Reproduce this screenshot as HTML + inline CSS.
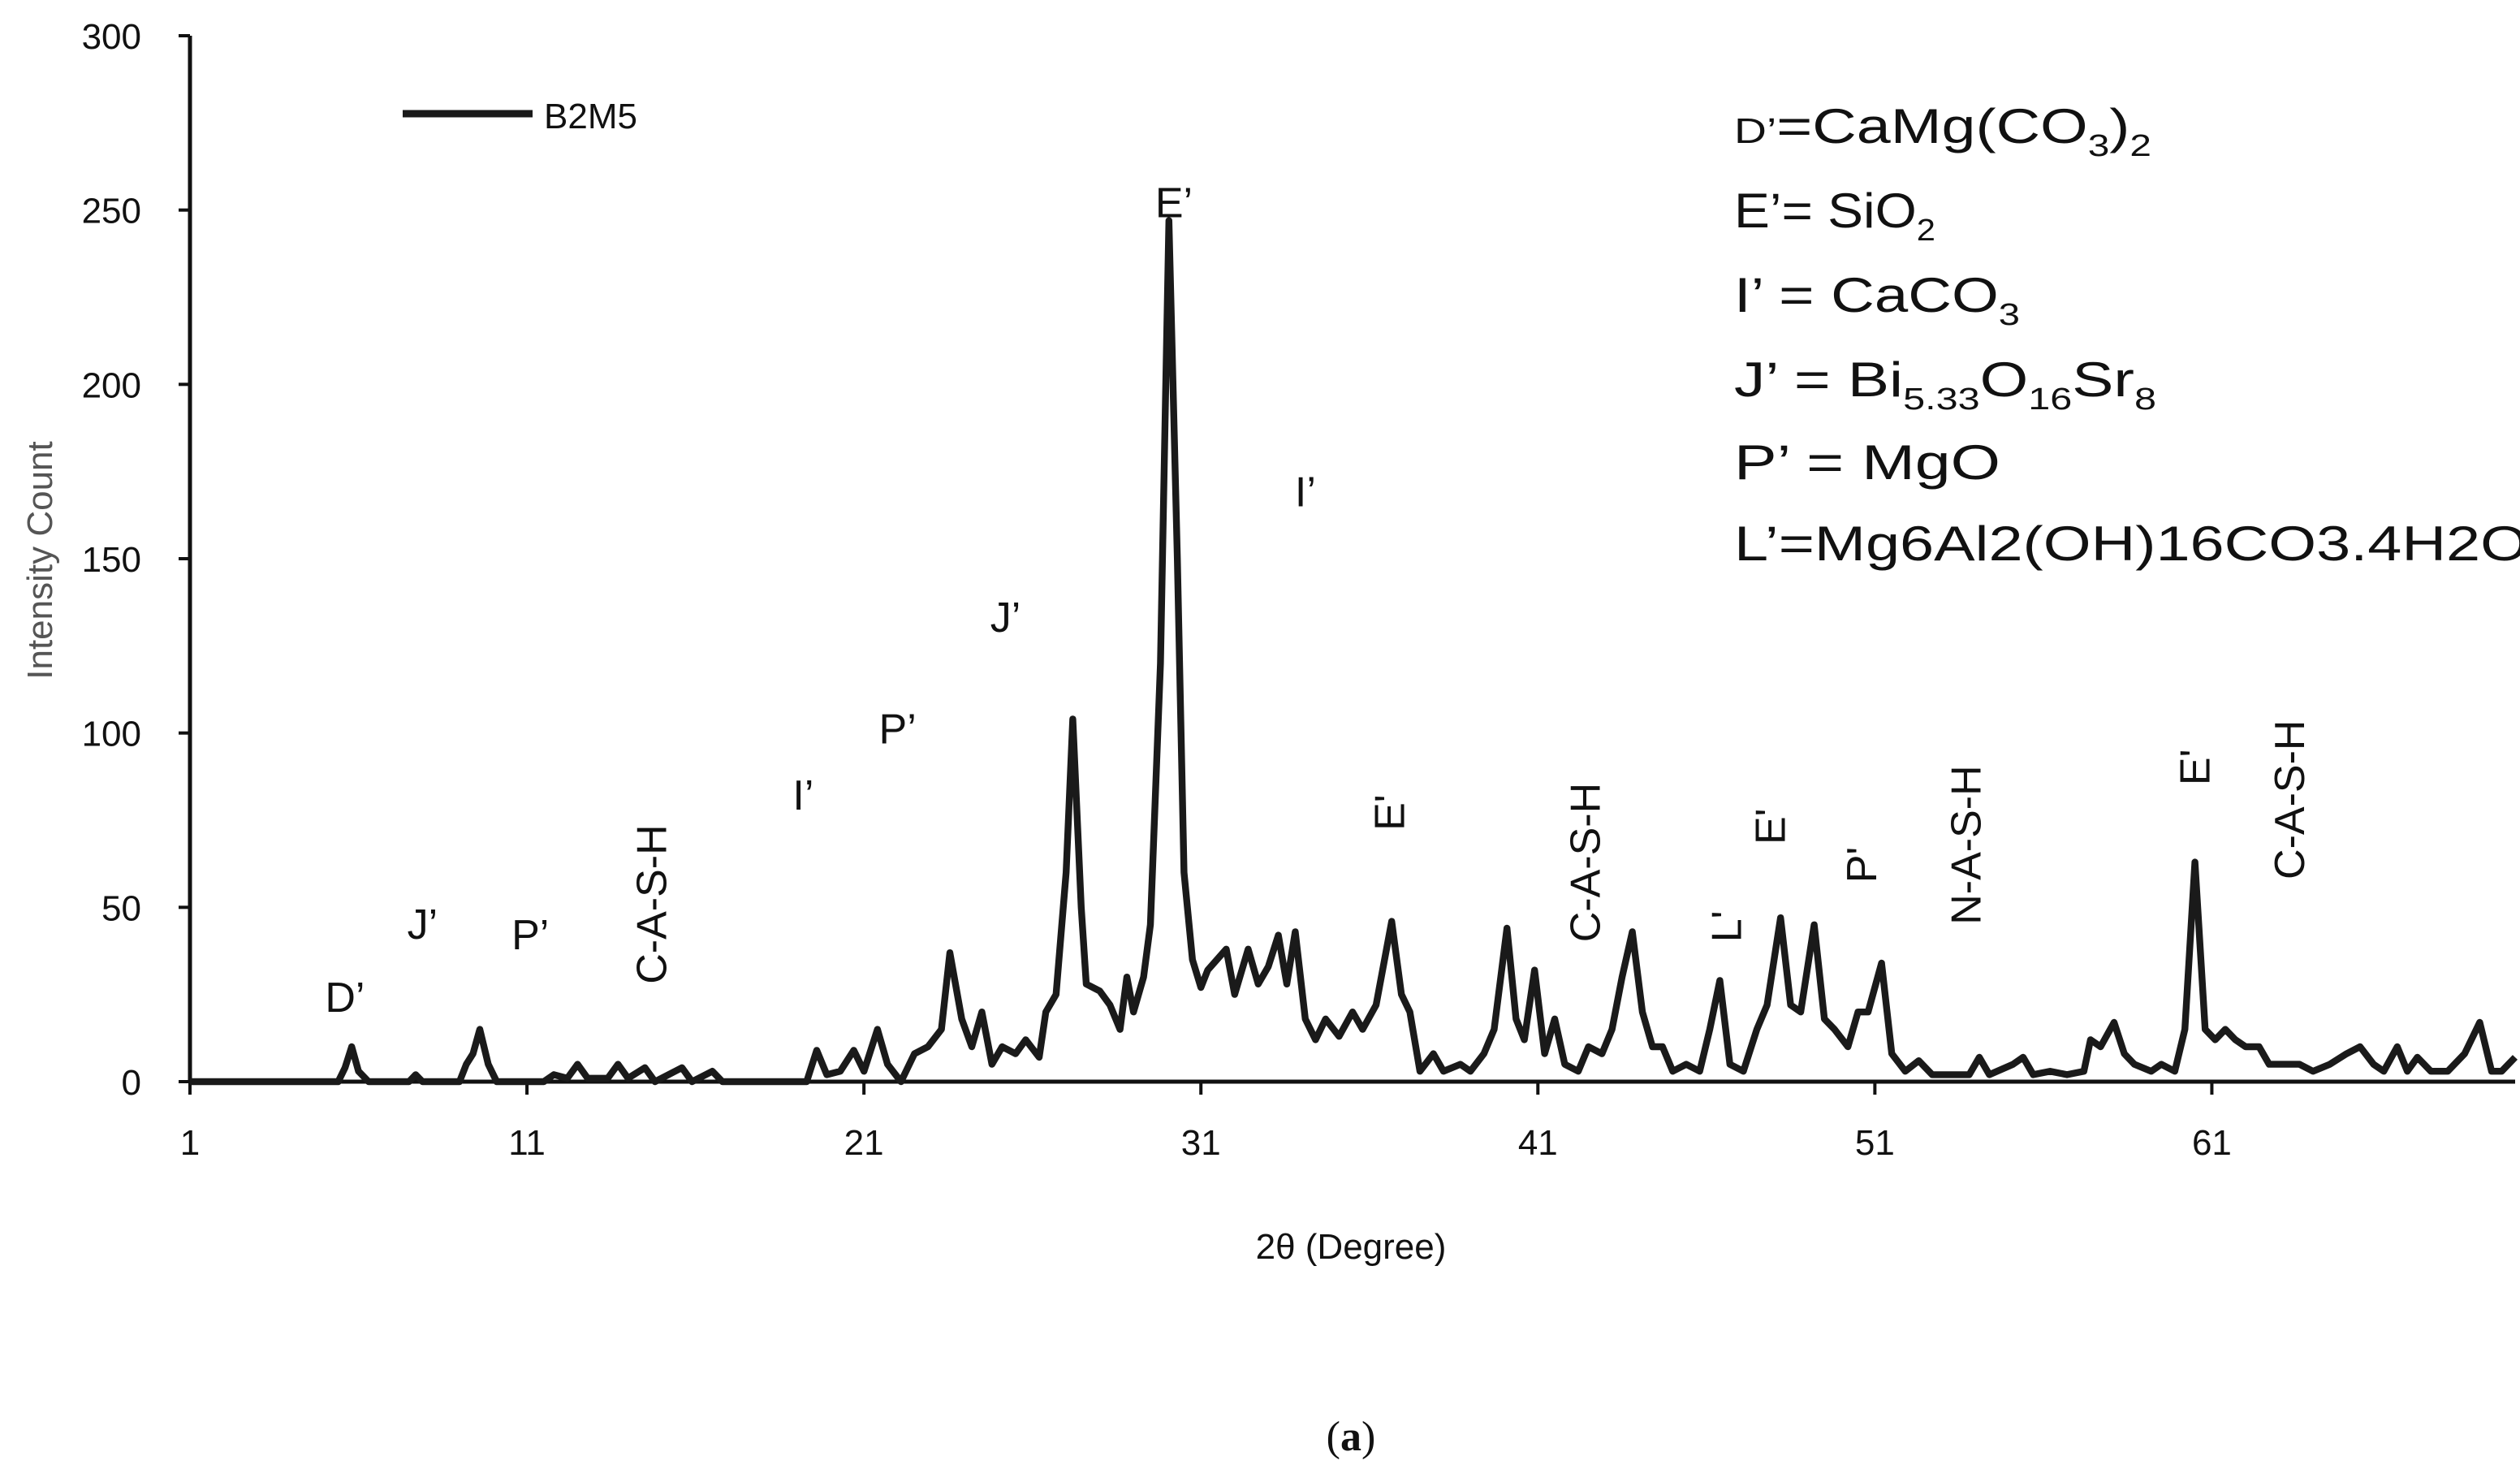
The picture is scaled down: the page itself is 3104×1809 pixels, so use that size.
<!DOCTYPE html>
<html><head><meta charset="utf-8"><style>
html,body{margin:0;padding:0;background:#fff;}
svg{display:block;}
text{font-family:"Liberation Sans",sans-serif;fill:#111;}
</style></head><body>
<svg id="chart" width="3104" height="1809" viewBox="0 0 1552 904.5" preserveAspectRatio="none" xmlns="http://www.w3.org/2000/svg">
<g id="axes"></g>
<path id="series" fill="none" stroke="#1a1a1a" stroke-width="4.2" stroke-linejoin="round"/>
<g id="legend">
<line x1="248" y1="70" x2="328" y2="70" stroke="#1a1a1a" stroke-width="4.5"/>
<text x="335" y="79" font-size="22">B2M5</text>
</g>
<g font-size="30">
<text x="1068" y="88" textLength="257" lengthAdjust="spacingAndGlyphs"><tspan font-size="22">D’</tspan>=CaMg(CO<tspan font-size="19" dy="8">3</tspan><tspan dy="-8">)</tspan><tspan font-size="19" dy="8">2</tspan></text>
<text x="1068" y="140" textLength="124" lengthAdjust="spacingAndGlyphs">E’= SiO<tspan font-size="19" dy="8">2</tspan></text>
<text x="1068" y="192" textLength="176" lengthAdjust="spacingAndGlyphs">I’ = CaCO<tspan font-size="19" dy="8">3</tspan></text>
<text x="1068" y="244" textLength="260" lengthAdjust="spacingAndGlyphs">J’ = Bi<tspan font-size="19" dy="8">5.33</tspan><tspan dy="-8">O</tspan><tspan font-size="19" dy="8">16</tspan><tspan dy="-8">Sr</tspan><tspan font-size="19" dy="8">8</tspan></text>
<text x="1068" y="295" textLength="164" lengthAdjust="spacingAndGlyphs">P’ = MgO</text>
<text x="1068" y="345" textLength="489" lengthAdjust="spacingAndGlyphs">L’=Mg6Al2(OH)16CO3.4H2O</text>
</g>
<g id="labels" font-size="26"></g>
<text x="832" y="775" font-size="22" text-anchor="middle">2θ (Degree)</text>
<text transform="translate(32,345) rotate(-90)" font-size="22" text-anchor="middle" style="fill:#555">Intensity Count</text>
<text x="832" y="893" font-size="26" text-anchor="middle" style="font-family:'Liberation Serif',serif">(<tspan font-weight="bold">a</tspan>)</text>
</svg>
<script>
const deg = [1,5.4,5.6,5.8,6.0,6.3,7.5,7.7,7.9,9.0,9.2,9.4,9.6,9.85,10.1,11.5,11.8,12.2,12.5,12.8,13.4,13.7,14.0,14.5,14.8,15.6,15.9,16.5,16.8,19.3,19.6,19.9,20.3,20.7,21.0,21.4,21.7,22.1,22.5,22.9,23.3,23.55,23.9,24.2,24.5,24.8,25.1,25.5,25.8,26.2,26.4,26.7,27.0,27.2,27.45,27.6,28.0,28.3,28.6,28.8,29.0,29.3,29.5,29.8,30.05,30.3,30.5,30.75,31.0,31.2,31.75,32.0,32.4,32.7,33.0,33.3,33.55,33.8,34.1,34.4,34.7,35.1,35.5,35.8,36.2,36.66,36.95,37.2,37.5,37.9,38.2,38.7,39.0,39.4,39.7,40.08,40.35,40.6,40.9,41.2,41.5,41.8,42.2,42.5,42.9,43.2,43.5,43.8,44.1,44.4,44.7,45.0,45.4,45.8,46.1,46.4,46.7,47.1,47.5,47.8,48.2,48.5,48.8,49.2,49.5,49.8,50.2,50.5,50.8,51.2,51.5,51.9,52.3,52.7,53.3,53.8,54.1,54.4,55.1,55.4,55.7,56.2,56.7,57.2,57.4,57.7,58.1,58.4,58.7,59.2,59.5,59.9,60.2,60.5,60.8,61.1,61.4,61.7,62.0,62.4,62.7,63.1,63.6,64.0,64.5,65.0,65.4,65.8,66.1,66.5,66.8,67.1,67.5,68.0,68.5,68.95,69.3,69.6,70.0];
const intensity = [0,0,4,10,3,0,0,2,0,0,5,8,15,5,0,0,2,1,5,1,1,5,1,4,0,4,0,3,0,0,9,2,3,9,3,15,5,0,8,10,15,37,18,10,20,5,10,8,12,7,20,25,60,104,50,28,26,22,15,30,20,30,45,120,247,150,60,35,27,32,38,25,38,28,33,42,28,43,18,12,18,13,20,15,22,46,25,20,3,8,3,5,3,8,15,44,18,12,32,8,18,5,3,10,8,15,30,43,20,10,10,3,5,3,15,29,5,3,15,22,47,22,20,45,18,15,10,20,20,34,8,3,6,2,2,2,7,2,5,7,2,3,2,3,12,10,17,8,5,3,5,3,15,63,15,12,15,12,10,10,5,5,5,3,5,8,10,5,3,10,3,7,3,3,8,17,3,3,7];
const yTicks = [0,50,100,150,200,250,300];
const xTicks = [1,11,21,31,41,51,61];
const labelText = ["D’","J’","P’","C-A-S-H","I’","P’","J’","E’","I’","E'","C-A-S-H","L'","E'","P'","N-A-S-H","E'","C-A-S-H"];
const labelDeg = [5.6,7.9,11.1,14.7,19.2,22.0,25.2,30.2,34.1,36.6,42.4,46.6,47.9,50.6,53.7,60.5,63.3];
const labelVal = [20,41,38,28,78,97,129,248,165,72,40,40,68,57,45,85,58];
const labelRot = [0,0,0,1,0,0,0,0,0,1,1,1,1,1,1,1,1];

const X0=117, X1=1549, Y0=666, Y1=22;
const xs = d => X0 + (d-1)*(X1-X0)/69;
const ys = v => Y0 - v*(Y0-Y1)/300;
const NS="http://www.w3.org/2000/svg";
const axes=document.getElementById('axes');
function mk(tag, attrs, parent){const e=document.createElementNS(NS,tag);for(const k in attrs)e.setAttribute(k,attrs[k]);parent.appendChild(e);return e;}
const ya=mk('line',{x1:X0,y1:Y1,x2:X0,y2:Y0,stroke:'#111','stroke-width':2.5},axes);


const xa=mk('line',{x1:X0,y1:Y0,x2:X1,y2:Y0,stroke:'#111','stroke-width':2.5},axes);


yTicks.forEach(t=>{
  const l=mk('line',{x1:X0-7,y1:ys(t),x2:X0,y2:ys(t),stroke:'#111','stroke-width':2},axes);
  
  
  const tx=mk('text',{x:87,y:ys(t)+8,'font-size':22,'text-anchor':'end'},axes);
  tx.textContent=t;
  
  
});
xTicks.forEach(t=>{
  const l=mk('line',{x1:xs(t),y1:Y0,x2:xs(t),y2:Y0+8,stroke:'#111','stroke-width':2},axes);
  
  
  const tx=mk('text',{x:xs(t),y:Y0+45,'font-size':22,'text-anchor':'middle'},axes);
  tx.textContent=t;
  
  
});
let d='';
deg.forEach((g,i)=>{d+=(i?'L':'M')+xs(g).toFixed(1)+','+ys(intensity[i]).toFixed(1);});
document.getElementById('series').setAttribute('d',d);
const lab=document.getElementById('labels');
labelText.forEach((s,i)=>{
  const x=xs(labelDeg[i]), y=ys(labelVal[i]);
  let t;
  if(labelRot[i]){
    t=mk('text',{transform:`translate(${x+9},${y}) rotate(-90)`,'text-anchor':'start'},lab);
  } else {
    t=mk('text',{x:x,y:y,'text-anchor':'middle'},lab);
  }
  t.textContent=s;
  
  
});
</script>
</body></html>
